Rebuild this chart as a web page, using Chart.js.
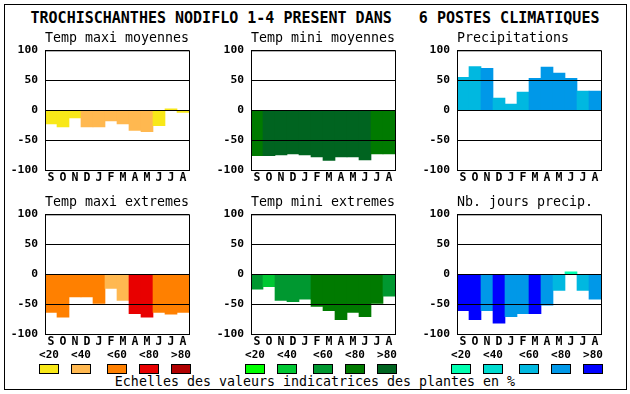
<!DOCTYPE html>
<html>
<head>
<meta charset="utf-8">
<script src="https://cdn.jsdelivr.net/npm/chart.js@4"></script>
<style>
  body { margin: 0; background: #fff; }
  #wrap { position: relative; width: 630px; height: 394px; overflow: hidden; font-family: "DejaVu Sans Mono", monospace; color: #000; }
  .frame { position: absolute; left: 4px; top: 4px; width: 623px; height: 386px; border: 1px solid #000; box-sizing: border-box; }
  .title { position: absolute; left: 0; top: 9px; width: 630px; text-align: center; font-weight: bold; font-size: 15px; line-height: 18px; white-space: pre; }
  canvas { position: absolute; }
  .lab { position: absolute; width: 30px; text-align: center; font-weight: bold; font-size: 11px; line-height: 12px; }
  .box { position: absolute; width: 20px; height: 10px; border: 1px solid #000; box-sizing: border-box; }
  .foot { position: absolute; left: 0; top: 374px; width: 630px; text-align: center; font-size: 13.3px; line-height: 16px; white-space: pre; }
</style>
</head>
<body>
<div id="wrap">
  <div class="frame"></div>
  <div class="title">TROCHISCHANTHES NODIFLO 1-4 PRESENT DANS   6 POSTES CLIMATIQUES</div>
  <canvas id="c0" width="228" height="158"></canvas>
  <canvas id="c1" width="228" height="158"></canvas>
  <canvas id="c2" width="228" height="158"></canvas>
  <canvas id="c3" width="228" height="158"></canvas>
  <canvas id="c4" width="228" height="158"></canvas>
  <canvas id="c5" width="228" height="158"></canvas>
  <div class="foot">Echelles des valeurs indicatrices des plantes en %</div>
</div>
<script>
// months from September to August
const months = ['S', 'O', 'N', 'D', 'J', 'F', 'M', 'A', 'M', 'J', 'J', 'A'];
const classLabels = ['<20', '<40', '<60', '<80', '>80'];

// values (%) and indicator class (index into classLabels) per month
const tmaxMoy = [-23, -28, -13, -28, -28, -18, -23, -34, -36, -26, 2, -4];
const tmaxMoyClass = [0, 0, 0, 1, 1, 1, 1, 1, 1, 0, 0, 0];
const tminMoy = [-76, -76, -75, -73, -75, -78, -84, -78, -78, -83, -73, -73];
const tminMoyClass = [3, 4, 4, 4, 4, 4, 4, 4, 4, 4, 3, 3];
const precip = [55, 73, 70, 20, 10, 30, 53, 72, 62, 53, 32, 32];
const precipClass = [2, 2, 3, 2, 2, 2, 3, 3, 3, 3, 2, 3];
const tmaxExt = [-64, -72, -38, -38, -49, -24, -44, -66, -72, -64, -67, -64];
const tmaxExtClass = [2, 2, 2, 2, 2, 1, 1, 3, 3, 2, 2, 2];
const tminExt = [-25, -21, -44, -46, -42, -54, -61, -76, -64, -71, -49, -37];
const tminExtClass = [2, 1, 2, 2, 2, 3, 3, 3, 3, 3, 3, 2];
const nbJours = [-61, -76, -61, -82, -71, -66, -66, -52, -27, 4, -27, -42];
const nbJoursClass = [4, 4, 3, 4, 3, 3, 4, 3, 2, 0, 2, 3];

const yTicks = [-100, -50, 0, 50, 100];

// colour scales per column
const warmColors = ['#f8e818', '#ffb850', '#ff8000', '#e80000', '#b00000'];
const greenColors = ['#00ff00', '#00c834', '#009830', '#007a00', '#006420'];
const blueColors = ['#00ffb0', '#00dcd0', '#00b8e0', '#0098e8', '#0000ff'];

const FONT = '"DejaVu Sans Mono", monospace';
const colLeft = [45, 251, 457];   // left edge of each plot area
const rowTop = [28, 192];         // top of each canvas
const AXIS_W = 42;

const panels = [
  { title: 'Temp maxi moyennes', values: tmaxMoy, cls: tmaxMoyClass, colors: warmColors },
  { title: 'Temp mini moyennes', values: tminMoy, cls: tminMoyClass, colors: greenColors },
  { title: 'Precipitations', values: precip, cls: precipClass, colors: blueColors },
  { title: 'Temp maxi extremes', values: tmaxExt, cls: tmaxExtClass, colors: warmColors },
  { title: 'Temp mini extremes', values: tminExt, cls: tminExtClass, colors: greenColors },
  { title: 'Nb. jours precip.', values: nbJours, cls: nbJoursClass, colors: blueColors },
];

// black frame round the plot area
const plotBox = {
  id: 'plotBox',
  afterDraw(chart) {
    const a = chart.chartArea;
    const ctx = chart.ctx;
    ctx.save();
    ctx.strokeStyle = '#000';
    ctx.lineWidth = 1;
    ctx.strokeRect(a.left + 0.5, a.top + 0.5, a.right - a.left, a.bottom - a.top);
    ctx.restore();
  }
};

panels.forEach((p, i) => {
  const col = i % 3, row = Math.floor(i / 3);
  const canvas = document.getElementById('c' + i);
  canvas.style.left = (colLeft[col] - AXIS_W) + 'px';
  canvas.style.top = rowTop[row] + 'px';

  new Chart(canvas.getContext('2d'), {
    type: 'bar',
    data: {
      labels: months,
      datasets: [{
        data: p.values,
        backgroundColor: p.cls.map(c => p.colors[c]),
        borderWidth: 0,
        categoryPercentage: 1,
        barPercentage: 1,
      }]
    },
    options: {
      responsive: false,
      animation: false,
      devicePixelRatio: 1,
      layout: { padding: { left: 0, right: AXIS_W, top: 0, bottom: 0 } },
      plugins: {
        legend: { display: false },
        tooltip: { enabled: false },
        title: {
          display: true,
          text: p.title,
          color: '#000',
          align: 'start',
          fullSize: false,
          font: { family: FONT, size: 13.3, weight: 'normal', lineHeight: 1 },
          padding: { top: 4, bottom: 5 },
        },
      },
      scales: {
        x: {
          grid: { display: false, drawTicks: false },
          border: { display: false },
          ticks: {
            color: '#000',
            font: { family: FONT, size: 11.5, weight: 'bold' },
            padding: 1,
            autoSkip: false,
            maxRotation: 0,
          },
          afterFit(scale) { scale.height = 16; },
        },
        y: {
          min: -100,
          max: 100,
          afterBuildTicks(scale) { scale.ticks = yTicks.map(v => ({ value: v })); },
          grid: { color: '#000', lineWidth: 1, drawTicks: false, z: 1 },
          border: { display: false },
          ticks: {
            color: '#000',
            font: { family: FONT, size: 11.3, weight: 'bold' },
            padding: 7,
          },
          afterFit(scale) { scale.width = AXIS_W; },
        },
      },
    },
    plugins: [plotBox],
  });

  // class legend under the bottom row
  if (row === 1) {
    const wrap = document.getElementById('wrap');
    const offs = [-6, 26, 62, 94, 126];
    classLabels.forEach((lab, k) => {
      const x = colLeft[col] + offs[k];
      const t = document.createElement('div');
      t.className = 'lab';
      t.textContent = lab;
      t.style.left = (x - 5) + 'px';
      t.style.top = '349px';
      wrap.appendChild(t);
      const b = document.createElement('div');
      b.className = 'box';
      b.style.left = x + 'px';
      b.style.top = '364px';
      b.style.background = p.colors[k];
      wrap.appendChild(b);
    });
  }
});
</script>
</body>
</html>
